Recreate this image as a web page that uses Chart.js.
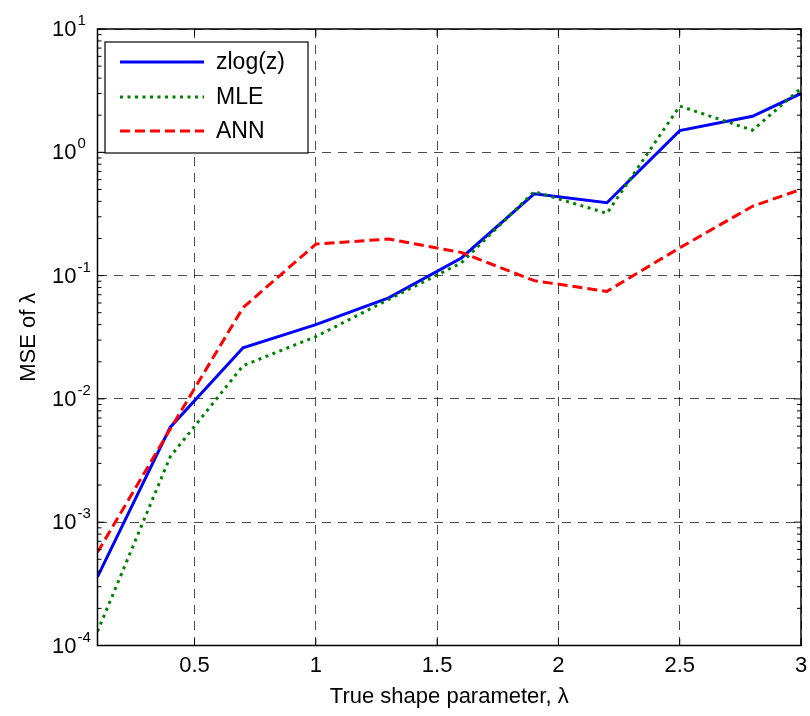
<!DOCTYPE html>
<html>
<head>
<meta charset="utf-8">
<script src="https://cdn.jsdelivr.net/npm/chart.js@4.4.1/dist/chart.umd.min.js"></script>
<style>
  html, body { margin:0; padding:0; background:#fff; }
  #wrap { width:810px; height:716px; }
</style>
</head>
<body>
<div id="wrap"><canvas id="mse" width="810" height="716"></canvas></div>
<script>
// shape parameter grid and mean squared error of each estimator
const lambdaVals = [0.1, 0.4, 0.7, 1.0, 1.3, 1.6, 1.9, 2.2, 2.5, 2.8, 3.0];
const zlogMse = [3.6e-4, 5.9e-3, 0.026, 0.040, 0.066, 0.139, 0.46, 0.39, 1.50, 1.96, 3.0];
const mleMse  = [1.3e-4, 3.4e-3, 0.0186, 0.032, 0.064, 0.127, 0.48, 0.32, 2.37, 1.51, 3.3];
const annMse  = [5.7e-4, 5.7e-3, 0.055, 0.180, 0.198, 0.154, 0.091, 0.0745, 0.168, 0.365, 0.50];

const xTicks = [0.5, 1, 1.5, 2, 2.5, 3];
const yExps = [-4, -3, -2, -1, 0, 1];

const FONT = 'Arial, "Liberation Sans", Helvetica, sans-serif';
const pts = ys => lambdaVals.map((x,i)=>({x, y: ys[i]}));

// frame, inward tick marks, superscript y labels and the boxed legend
const matlabAxes = {
  id: 'matlabAxes',
  beforeDraw(chart){
    const c = chart.ctx; c.save(); c.fillStyle = '#fff'; c.fillRect(0,0,chart.width,chart.height); c.restore();
  },
  afterDraw(chart){
    const c = chart.ctx, a = chart.chartArea, xs = chart.scales.x, ys = chart.scales.y;
    c.save();
    c.strokeStyle = '#000'; c.lineWidth = 1.5; c.setLineDash([]);
    c.strokeRect(a.left, a.top, a.right-a.left, a.bottom-a.top);

    c.lineWidth = 1;
    c.beginPath();
    xTicks.forEach(v=>{
      const px = xs.getPixelForValue(v);
      c.moveTo(px, a.bottom); c.lineTo(px, a.bottom-7);
      c.moveTo(px, a.top); c.lineTo(px, a.top+7);
    });
    yExps.forEach(e=>{
      const py = ys.getPixelForValue(Math.pow(10,e));
      c.moveTo(a.left, py); c.lineTo(a.left+7, py);
      c.moveTo(a.right, py); c.lineTo(a.right-7, py);
      if(e < yExps[yExps.length-1]){
        for(let m=2;m<=9;m++){
          const pm = ys.getPixelForValue(m*Math.pow(10,e));
          c.moveTo(a.left, pm); c.lineTo(a.left+4, pm);
          c.moveTo(a.right, pm); c.lineTo(a.right-4, pm);
        }
      }
    });
    c.stroke();

    // 10^n labels
    c.fillStyle = '#000';
    c.textBaseline = 'middle';
    yExps.forEach(e=>{
      const py = ys.getPixelForValue(Math.pow(10,e));
      c.font = '22px ' + FONT; c.textAlign = 'right';
      c.fillText('10', a.left-21, py+1);
      c.font = '15px ' + FONT; c.textAlign = 'left';
      c.fillText(String(e), a.left-20, py-8);
    });

    // legend
    const lx = 105, ly = 42, lw = 203, lh = 111;
    c.fillStyle = '#fff'; c.fillRect(lx, ly, lw, lh);
    c.strokeStyle = '#000'; c.lineWidth = 1.2; c.strokeRect(lx, ly, lw, lh);
    const rows = [62, 97, 131];
    chart.data.datasets.forEach((ds,i)=>{
      const y = rows[i];
      c.strokeStyle = ds.borderColor; c.lineWidth = ds.borderWidth; c.lineCap = 'butt';
      c.setLineDash(ds.borderDash || []);
      c.beginPath(); c.moveTo(120, y); c.lineTo(204, y); c.stroke();
      c.setLineDash([]);
      c.fillStyle = '#000'; c.font = '23px ' + FONT; c.textAlign = 'left'; c.textBaseline = 'middle';
      c.fillText(ds.label, 216, y+1);
    });
    c.restore();
  }
};

new Chart(document.getElementById('mse').getContext('2d'), {
  type: 'line',
  data: {
    datasets: [
      { label: 'zlog(z)', data: pts(zlogMse), borderColor: '#0000ff', borderWidth: 3, order: 3 },
      { label: 'MLE', data: pts(mleMse), borderColor: '#008000', borderWidth: 3, borderDash: [3, 4.5], order: 2 },
      { label: 'ANN', data: pts(annMse), borderColor: '#ff0000', borderWidth: 3, borderDash: [10, 5], order: 1 }
    ]
  },
  options: {
    responsive: false,
    animation: false,
    layout: { padding: { left: 0, right: 9, top: 29, bottom: 0 } },
    elements: { point: { radius: 0 }, line: { tension: 0, borderCapStyle: 'butt' } },
    plugins: { legend: { display: false }, tooltip: { enabled: false } },
    scales: {
      x: {
        type: 'linear', min: 0.1, max: 3,
        afterBuildTicks: s => { s.ticks = xTicks.map(v=>({value:v})); },
        afterFit: s => { s.height = 70.5; s.paddingLeft = 0; s.paddingRight = 0; },
        ticks: { color: '#000', font: { family: FONT, size: 22 }, padding: 7, maxRotation: 0,
                 callback: v => String(v) },
        grid: { color: 'rgba(0,0,0,0.7)', lineWidth: 1, drawTicks: false },
        border: { display: false, dash: [9, 7] },
        title: { display: true, text: 'True shape parameter, λ', color: '#000',
                 font: { family: FONT, size: 22 }, padding: { top: 0, bottom: 6 } }
      },
      y: {
        type: 'logarithmic', min: 1e-4, max: 10,
        afterBuildTicks: s => { s.ticks = yExps.map(e=>({value: Math.pow(10,e), major: true})); },
        afterFit: s => { s.width = 97.5; s.paddingTop = 0; s.paddingBottom = 0; },
        ticks: { display: false },
        grid: { color: 'rgba(0,0,0,0.7)', lineWidth: 1, drawTicks: false },
        border: { display: false, dash: [9, 7] },
        title: { display: true, text: 'MSE of λ', color: '#000',
                 font: { family: FONT, size: 22 }, padding: { top: 16, bottom: 0 } }
      }
    }
  },
  plugins: [matlabAxes]
});
</script>
</body>
</html>
